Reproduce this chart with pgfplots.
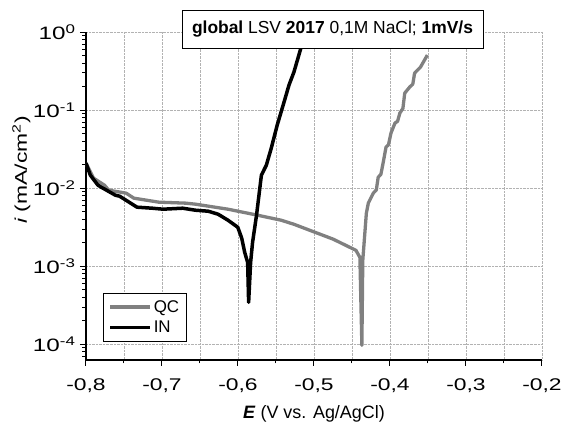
\documentclass[border=0pt]{standalone}
\usepackage{fontspec}
\setmainfont{Liberation Sans}
\newfontfamily\wide{Liberation Sans}[FakeStretch=1.35]
\usepackage{pgfplots}
\pgfplotsset{compat=1.18}
\begin{document}
\begin{tikzpicture}
\begin{axis}[
  scale only axis, width=456bp, height=328bp,
  xmin=-0.8, xmax=-0.2, ymode=log, ymin=6.3e-5, ymax=1,
  axis x line*=bottom, axis y line*=left,
  axis line style={line width=1.1bp, black},
  tick align=outside,
  major tick length=6bp, minor tick length=3.5bp,
  every tick/.style={black, line width=1bp},
  xtick={-0.8,-0.7,-0.6,-0.5,-0.4,-0.3,-0.2},
  xticklabels={{-0,8},{-0,7},{-0,6},{-0,5},{-0,4},{-0,3},{-0,2}},
  minor xtick={-0.75,-0.65,-0.55,-0.45,-0.35,-0.25},
  ytick={1e-4,1e-3,1e-2,1e-1,1},
  yticklabels={10\textsuperscript{-4},10\textsuperscript{-3},10\textsuperscript{-2},10\textsuperscript{-1},10\textsuperscript{0}},
  minor ytick={7e-5,8e-5,9e-5,2e-4,3e-4,4e-4,5e-4,6e-4,7e-4,8e-4,9e-4,2e-3,3e-3,4e-3,5e-3,6e-3,7e-3,8e-3,9e-3,2e-2,3e-2,4e-2,5e-2,6e-2,7e-2,8e-2,9e-2,2e-1,3e-1,4e-1,5e-1,6e-1,7e-1,8e-1,9e-1},
  xmajorgrids=true, xminorgrids=true, ymajorgrids=true, yminorgrids=false,
  grid style={densely dotted, gray!60, line width=0.5bp},
  xticklabel style={font=\wide\fontsize{17}{18}\selectfont, yshift=-9bp},
  yticklabel style={font=\wide\fontsize{18}{19}\selectfont, xshift=-1bp},
  xlabel={\textbf{\textit{E}} (V vs. Ag/AgCl)},
  ylabel={\textit{i} (mA/cm\textsuperscript{2})},
  xlabel style={font=\fontsize{18}{20}\selectfont, at={(axis description cs:0.5,-0.163)}, anchor=center},
  ylabel style={font=\wide\fontsize{17}{19}\selectfont, at={(axis description cs:-0.142,0.579)}, anchor=center},
  legend style={at={(axis description cs:0.037,0.204)}, anchor=north west,
    draw=black, line width=0.8bp, fill=white,
    font=\fontsize{17}{19}\selectfont, inner xsep=5bp, inner ysep=5bp,
    row sep=3bp},
  legend cell align=left,
  legend image code/.code={\draw[#1] (0bp,0bp) -- (40bp,0bp);},
]
\addplot[black!50, line width=3.3bp, line join=round] coordinates {
(-0.8000,0.0209)
(-0.7900,0.01343)
(-0.7757,0.01092)
(-0.7700,0.00942)
(-0.7471,0.00863)
(-0.7371,0.00745)
(-0.7043,0.00662)
(-0.6689,0.00643)
(-0.6560,0.00624)
(-0.6132,0.00538)
(-0.5744,0.00451)
(-0.5433,0.00389)
(-0.5264,0.00345)
(-0.4746,0.00222)
(-0.4448,0.00160)
(-0.4396,0.00130)
(-0.4370,0.0000971)
(-0.4358,0.00119)
(-0.4311,0.00478)
(-0.4285,0.00643)
(-0.4220,0.00863)
(-0.4180,0.00950)
(-0.4155,0.01384)
(-0.4120,0.01500)
(-0.4091,0.0209)
(-0.4052,0.0336)
(-0.4020,0.0360)
(-0.3987,0.0507)
(-0.3935,0.0681)
(-0.3900,0.0720)
(-0.3870,0.0916)
(-0.3830,0.1050)
(-0.3806,0.165)
(-0.3741,0.197)
(-0.3700,0.215)
(-0.3676,0.298)
(-0.3598,0.356)
(-0.3508,0.507)
};
\addlegendentry{QC}
\addplot[black, line width=3.5bp, line join=round] coordinates {
(-0.8000,0.0209)
(-0.7943,0.01468)
(-0.7843,0.01092)
(-0.7800,0.0103)
(-0.7614,0.00813)
(-0.7557,0.00789)
(-0.7329,0.00571)
(-0.7129,0.00554)
(-0.6987,0.00538)
(-0.6728,0.00554)
(-0.6560,0.00522)
(-0.6391,0.00507)
(-0.6262,0.00464)
(-0.6132,0.00389)
(-0.6041,0.00336)
(-0.6003,0.00316)
(-0.5951,0.00229)
(-0.5912,0.00151)
(-0.5873,0.00112)
(-0.5860,0.000345)
(-0.5834,0.00112)
(-0.5808,0.00203)
(-0.5756,0.00451)
(-0.5692,0.01468)
(-0.5627,0.0197)
(-0.5562,0.0326)
(-0.5484,0.0642)
(-0.5394,0.1267)
(-0.5329,0.209)
(-0.5264,0.307)
(-0.5199,0.507)
(-0.5161,0.681)
(-0.5104,1.0)
};
\addlegendentry{IN}
\coordinate (tt) at (axis description cs:0.5406,1.0091);
\coordinate (bl) at (axis description cs:-0.1886,-0.2073);
\coordinate (tr) at (axis description cs:1.0417,1.0976);
\end{axis}
\node[draw=black, fill=white, line width=0.9bp, minimum width=301bp, minimum height=38bp, inner sep=0pt, font=\fontsize{17.5}{19}\selectfont] at (tt) {\textbf{global} LSV \textbf{2017} 0,1M NaCl; \textbf{1mV/s}};
\pgfresetboundingbox
\useasboundingbox (bl) rectangle (tr);
\end{tikzpicture}
\end{document}
